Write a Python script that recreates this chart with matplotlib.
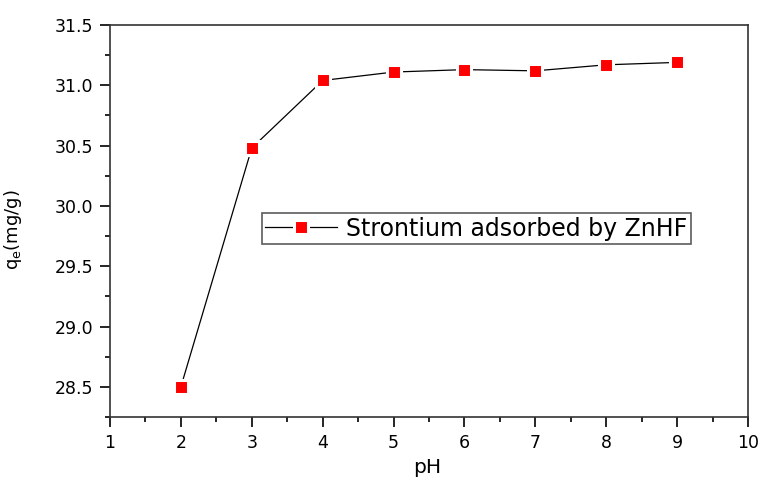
import matplotlib
matplotlib.use('Agg')
import matplotlib.pyplot as plt
from matplotlib.ticker import MultipleLocator, FormatStrFormatter

plt.rcParams['font.family'] = ['DejaVu Sans']

ph = [2, 3, 4, 5, 6, 7, 8, 9]
qe = [28.50, 30.48, 31.04, 31.11, 31.13, 31.12, 31.17, 31.19]

fig = plt.figure(figsize=(7.61, 4.78), dpi=100)
ax = fig.add_axes([0.1445, 0.1276, 0.8385, 0.8201])

# white marker edge leaves a small gap in the line around each symbol
ax.plot(ph, qe, color='black', linewidth=0.9, marker='s', markersize=10.5,
        markerfacecolor='red', markeredgecolor='white', markeredgewidth=2.2,
        label='Strontium adsorbed by ZnHF')

ax.set_xlim(1, 10)
ax.set_ylim(28.25, 31.5)
ax.xaxis.set_major_locator(MultipleLocator(1))
ax.xaxis.set_minor_locator(MultipleLocator(0.5))
ax.yaxis.set_major_locator(MultipleLocator(0.5))
ax.yaxis.set_minor_locator(MultipleLocator(0.25))
ax.yaxis.set_major_formatter(FormatStrFormatter('%.1f'))

ax.tick_params(which='major', direction='out', length=7.5, width=1.2,
               labelsize=12.5, pad=4.5)
ax.tick_params(which='minor', direction='out', length=3.5, width=1.2)
for s in ax.spines.values():
    s.set_linewidth(1.2)
    s.set_color('#333333')

ax.set_xlabel('pH', fontsize=14.5)
ax.xaxis.set_label_coords(0.497, -0.105)
ax.set_ylabel(r'q$_\mathregular{e}$(mg/g)', fontsize=13)
ax.yaxis.set_label_coords(-0.134, 0.478)

leg = ax.legend(loc='upper left', bbox_to_anchor=(0.238, 0.52), fontsize=17,
                frameon=True, fancybox=False, edgecolor='#333333',
                borderpad=0.15, borderaxespad=0, handlelength=3.05,
                handletextpad=0.38)
leg.get_frame().set_linewidth(1.2)

plt.savefig('out.png', dpi=100)
